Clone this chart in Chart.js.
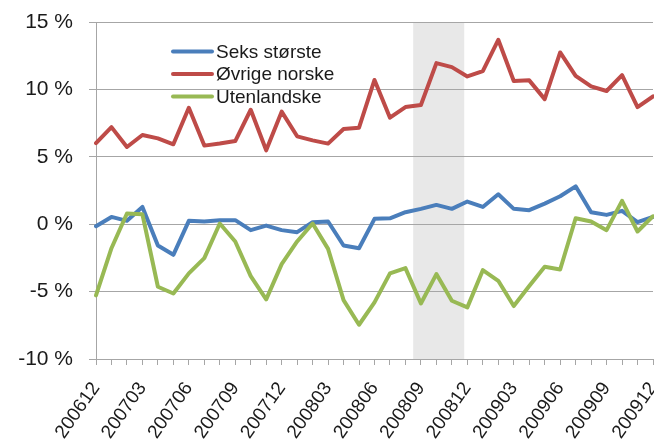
<!DOCTYPE html>
<html>
<head>
<meta charset="utf-8">
<script src="https://cdn.jsdelivr.net/npm/chart.js@4/dist/chart.umd.min.js"></script>
<style>
  html, body { margin: 0; padding: 0; background: #fff; }
</style>
</head>
<body>
<canvas id="chart" width="654" height="446"></canvas>
<script>
const months = [
    '200612',
    '200701', '200702', '200703', '200704', '200705', '200706', '200707', '200708', '200709', '200710', '200711', '200712',
    '200801', '200802', '200803', '200804', '200805', '200806', '200807', '200808', '200809', '200810', '200811', '200812',
    '200901', '200902', '200903', '200904', '200905', '200906', '200907', '200908', '200909', '200910', '200911', '200912'
]
const seksStorste = [-0.15, 0.54, 0.25, 1.28, -1.58, -2.27, 0.25, 0.2, 0.3, 0.3,
    -0.44, -0.1, -0.44, -0.59, 0.15, 0.2, -1.58, -1.78, 0.4, 0.44,
    0.89, 1.14, 1.43, 1.14, 1.68, 1.28, 2.22, 1.14, 1.04, 1.53,
    2.07, 2.81, 0.89, 0.69, 0.99, 0.15, 0.54]
const ovrigeNorske = [6.02, 7.2, 5.73, 6.62, 6.37, 5.93, 8.64, 5.83, 5.98, 6.17,
    8.49, 5.48, 8.35, 6.52, 6.22, 5.98, 7.06, 7.16, 10.7, 7.9,
    8.69, 8.84, 11.95, 11.65, 10.96, 11.36, 13.68, 10.62, 10.67, 9.28,
    12.74, 11.01, 10.22, 9.88, 11.06, 8.69, 9.48]
const utenlandske = [-5.28, -1.78, 0.79, 0.74, -4.64, -5.14, -3.65, -2.52, 0.05, -1.28,
    -3.85, -5.58, -2.96, -1.28, 0.05, -1.83, -5.63, -7.46, -5.8, -3.65,
    -3.26, -5.88, -3.7, -5.68, -6.17, -3.41, -4.2, -6.07, -4.59, -3.16,
    -3.36, 0.44, 0.2, -0.44, 1.73, -0.54, 0.59]
const seriesNames = ['Seks største', 'Øvrige norske', 'Utenlandske']
const yTicks = [-10, -5, 0, 5, 10, 15]
// shaded period, in category index units
const shadeFrom = 20.5
const shadeTo = 23.8

const font = "'Liberation Sans', Arial, sans-serif"
const colors = ['#4a7ebb', '#be4b48', '#98b954']

// grey band behind grid lines
const shadePlugin = {
    id: 'shade',
    beforeDraw(chart) {
        const { ctx, chartArea, scales } = chart
        const x0 = scales.x.getPixelForValue(shadeFrom)
        const x1 = scales.x.getPixelForValue(shadeTo)
        ctx.save()
        ctx.fillStyle = '#e8e8e8'
        ctx.fillRect(x0, chartArea.top, x1 - x0, chartArea.bottom - chartArea.top)
        ctx.restore()
    }
}

// legend drawn inside the plot, top-left
const legendPlugin = {
    id: 'innerLegend',
    afterDatasetsDraw(chart) {
        const { ctx, chartArea } = chart
        ctx.save()
        ctx.font = '19px ' + font
        ctx.textBaseline = 'middle'
        chart.data.datasets.forEach((ds, i) => {
            const y = chartArea.top + 29.5 + i * 22.5
            const x = chartArea.left + 77
            ctx.strokeStyle = ds.borderColor
            ctx.lineWidth = 4
            ctx.lineCap = 'round'
            ctx.beginPath()
            ctx.moveTo(x, y)
            ctx.lineTo(x + 39, y)
            ctx.stroke()
            ctx.fillStyle = '#1a1a1a'
            ctx.fillText(ds.label, x + 43, y + 1)
        })
        ctx.restore()
    }
}

const ctx = document.getElementById('chart')
new Chart(ctx, {
    type: 'line',
    data: {
        labels: months,
        datasets: [
            { label: seriesNames[0], data: seksStorste, borderColor: colors[0], order: 3 },
            { label: seriesNames[1], data: ovrigeNorske, borderColor: colors[1], order: 2 },
            { label: seriesNames[2], data: utenlandske, borderColor: colors[2], order: 1 }
        ]
    },
    options: {
        responsive: false,
        animation: false,
        layout: { padding: { top: 22, right: 1, left: 0, bottom: 0 } },
        elements: {
            line: { borderWidth: 4, tension: 0, borderJoinStyle: 'round', borderCapStyle: 'round' },
            point: { radius: 0 }
        },
        plugins: {
            legend: { display: false },
            tooltip: { enabled: false }
        },
        scales: {
            x: {
                offset: false,
                grid: { drawOnChartArea: false, drawTicks: true, tickLength: 6, color: '#a6a6a6' },
                border: { display: false },
                ticks: {
                    autoSkip: false,
                    minRotation: 55,
                    maxRotation: 55,
                    padding: 13,
                    color: '#1a1a1a',
                    font: { size: 19, family: font },
                    callback: (v, i) => (i % 3 === 0 ? months[i] : '')
                },
                afterFit(scale) {
                    scale.height = 87
                    scale.paddingLeft = 0
                    scale.paddingRight = 0
                }
            },
            y: {
                min: yTicks[0],
                max: yTicks[yTicks.length - 1],
                afterBuildTicks(scale) { scale.ticks = yTicks.map(v => ({ value: v })) },
                grid: { color: '#a6a6a6', tickLength: 7 },
                border: { color: '#a6a6a6' },
                ticks: {
                    padding: 16,
                    color: '#1a1a1a',
                    font: { size: 21, family: font },
                    callback: v => v + ' %'
                },
                afterFit(scale) {
                    scale.width = 96
                    scale.paddingTop = 0
                    scale.paddingBottom = 0
                }
            }
        }
    },
    plugins: [shadePlugin, legendPlugin]
})
</script>
</body>
</html>
